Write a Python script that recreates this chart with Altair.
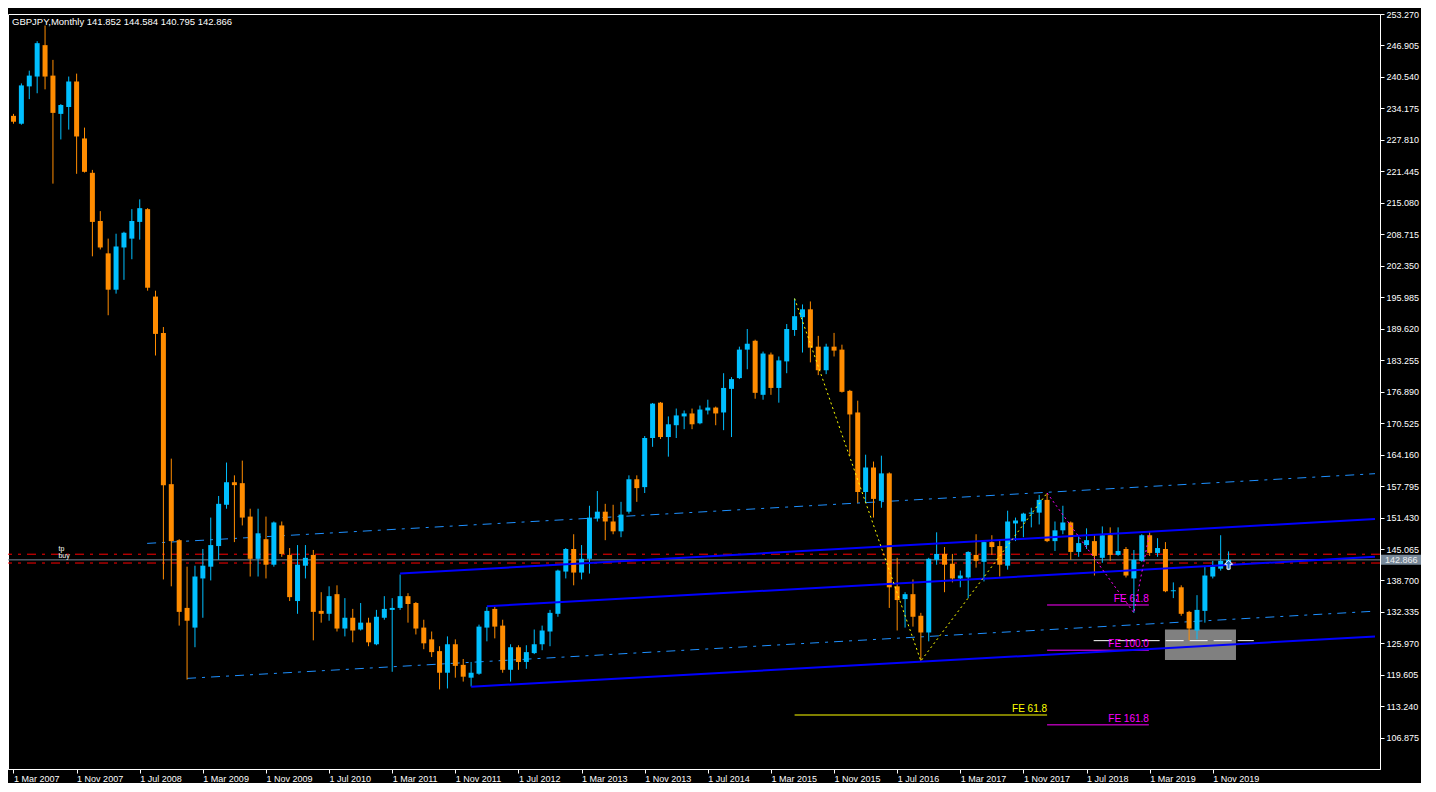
import altair as alt
import pandas as pd

# ---------------- data ----------------
symbol = "GBPJPY"
timeframe = "Monthly"

open_ = [232.67, 231.08, 238.63, 240.62, 246.97, 240.81, 233.07, 234.46, 239.62, 228.10,
         221.15, 211.41, 204.86, 197.51, 206.05, 207.84, 211.22, 213.80, 196.12, 188.77,
         158.18, 146.85, 133.15, 129.17, 139.11, 141.49, 145.66, 154.01, 158.57, 158.38,
         151.62, 143.08, 147.05, 141.89, 149.83, 143.87, 134.54, 141.69, 143.87, 132.55,
         131.96, 135.93, 128.98, 131.16, 128.78, 130.17, 125.80, 131.16, 132.75, 133.15,
         135.53, 134.14, 129.17, 126.79, 124.41, 120.04, 125.80, 121.63, 119.04, 119.84,
         129.17, 132.95, 129.57, 120.63, 125.20, 122.22, 124.01, 125.80, 128.38, 131.96,
         140.50, 145.07, 140.30, 143.08, 151.22, 152.61, 150.63, 148.64, 152.61, 159.17,
         157.58, 167.51, 174.66, 167.71, 170.10, 171.88, 172.48, 170.49, 173.08, 173.67,
         172.68, 177.45, 179.63, 185.39, 187.18, 176.25, 184.40, 177.64, 183.01, 189.36,
         191.95, 193.54, 185.99, 181.22, 185.99, 185.39, 177.05, 172.68, 156.59, 161.55,
         154.80, 160.36, 137.52, 134.93, 135.93, 131.56, 128.18, 142.88, 144.07, 142.09,
         139.11, 139.31, 143.87, 142.48, 146.46, 145.66, 141.69, 150.23, 150.63, 152.22,
         152.42, 155.00, 146.66, 148.84, 150.43, 144.47, 145.86, 146.66, 143.28, 147.85,
         143.87, 145.07, 139.11, 142.68, 147.85, 144.27, 145.07, 136.52, 137.32, 132.35,
         128.58, 132.55, 139.50, 141.09, 141.852]
high = [233.07, 239.23, 241.81, 247.77, 250.95, 243.99, 235.05, 240.62, 241.21, 230.29,
        221.74, 213.40, 207.84, 208.83, 209.23, 213.80, 215.78, 214.00, 197.31, 189.96,
        163.34, 147.05, 141.49, 141.69, 145.07, 151.42, 155.79, 162.55, 159.96, 162.94,
        153.21, 153.21, 151.62, 150.63, 150.63, 145.26, 145.86, 145.86, 144.87, 136.33,
        137.52, 137.72, 135.13, 132.95, 134.14, 131.16, 132.75, 135.53, 135.13, 139.90,
        136.13, 134.34, 130.76, 128.38, 125.40, 127.39, 126.79, 122.82, 122.22, 129.77,
        133.35, 133.35, 130.76, 125.80, 125.60, 125.60, 128.78, 129.57, 132.75, 140.89,
        145.26, 148.05, 145.86, 153.81, 156.79, 154.20, 154.01, 154.60, 159.96, 159.96,
        167.91, 174.60, 174.80, 171.88, 173.47, 173.08, 173.47, 174.07, 175.26, 173.87,
        180.62, 179.83, 185.99, 189.56, 187.40, 184.99, 184.80, 184.00, 190.56, 195.72,
        194.53, 195.13, 188.17, 186.58, 188.77, 186.39, 177.25, 175.06, 164.14, 162.75,
        163.94, 160.56, 143.28, 136.33, 138.91, 132.15, 143.28, 148.44, 145.46, 144.07,
        140.70, 144.60, 148.05, 146.66, 147.85, 146.66, 152.81, 151.42, 152.40, 153.41,
        155.99, 156.39, 150.63, 153.81, 150.63, 147.65, 149.24, 147.85, 149.63, 149.44,
        149.44, 145.46, 144.87, 148.05, 148.44, 147.25, 146.46, 138.31, 137.72, 132.55,
        135.73, 141.49, 142.68, 147.85, 144.584]
low = [231.08, 230.88, 236.05, 237.24, 238.03, 218.96, 227.90, 229.89, 220.95, 221.20,
       204.26, 205.65, 192.34, 196.71, 199.50, 203.67, 207.64, 197.31, 184.20, 138.91,
       137.52, 129.57, 118.65, 125.20, 131.16, 138.71, 142.88, 153.21, 146.46, 149.83,
       139.50, 139.50, 139.11, 141.49, 143.48, 134.54, 131.96, 139.11, 126.59, 130.17,
       130.56, 128.38, 127.39, 126.19, 128.58, 125.40, 125.60, 130.76, 120.23, 132.75,
       130.17, 127.78, 124.80, 123.21, 116.66, 116.86, 119.04, 118.25, 117.25, 119.64,
       126.39, 126.99, 120.04, 118.25, 120.63, 120.83, 123.81, 124.60, 125.40, 131.36,
       139.11, 137.72, 138.91, 140.10, 150.63, 146.85, 148.05, 147.45, 152.22, 154.60,
       156.39, 165.73, 167.31, 163.74, 167.51, 169.30, 169.30, 170.29, 172.28, 170.10,
       169.10, 167.71, 179.43, 181.42, 175.46, 175.26, 176.25, 174.66, 180.62, 188.17,
       184.80, 182.81, 180.23, 180.43, 184.00, 176.70, 163.94, 154.40, 154.40, 151.42,
       153.41, 133.15, 128.58, 129.17, 129.37, 122.42, 126.39, 141.89, 136.33, 138.31,
       137.32, 135.13, 141.29, 138.51, 143.87, 139.50, 140.89, 146.66, 147.45, 149.44,
       150.03, 146.46, 144.67, 148.05, 142.88, 143.48, 145.07, 139.70, 142.28, 142.68,
       143.70, 139.31, 132.15, 142.48, 143.68, 143.48, 136.33, 135.13, 131.56, 126.59,
       126.79, 130.17, 139.11, 140.70, 140.795]
close = [231.48, 238.83, 240.81, 247.37, 240.62, 233.27, 234.86, 239.62, 228.50, 221.35,
         211.22, 206.05, 197.51, 206.25, 209.03, 211.41, 214.00, 197.91, 188.57, 157.98,
         146.66, 132.35, 130.56, 139.50, 141.69, 145.86, 154.20, 158.57, 157.98, 151.42,
         143.08, 148.24, 141.89, 150.43, 144.07, 135.33, 141.89, 143.28, 132.35, 131.96,
         135.53, 128.98, 131.16, 128.58, 130.17, 126.19, 131.36, 132.95, 133.15, 135.53,
         133.94, 128.98, 125.99, 124.21, 120.04, 125.80, 121.43, 119.24, 120.04, 129.37,
         132.55, 129.37, 120.63, 125.20, 122.22, 124.21, 125.80, 128.58, 132.15, 140.70,
         145.07, 140.30, 143.08, 151.42, 152.61, 150.63, 148.64, 152.02, 159.17, 157.38,
         167.51, 174.47, 167.71, 170.29, 172.08, 172.48, 170.29, 173.27, 173.67, 172.48,
         177.64, 179.43, 185.39, 186.58, 176.65, 184.60, 177.64, 183.21, 189.56, 192.15,
         193.54, 185.79, 181.22, 185.99, 185.19, 176.85, 172.28, 156.59, 161.55, 155.20,
         160.36, 137.32, 134.74, 135.93, 131.36, 128.18, 143.08, 144.07, 141.89, 139.11,
         139.70, 144.47, 142.68, 146.46, 145.46, 141.89, 150.63, 150.83, 152.22, 152.42,
         155.00, 146.66, 148.84, 150.43, 144.47, 146.26, 146.85, 143.68, 147.85, 143.87,
         144.67, 139.70, 142.88, 147.85, 144.27, 145.26, 136.52, 136.72, 131.96, 128.98,
         132.75, 139.70, 141.49, 142.68, 142.866]

# date axis (bar index of each label)
date_tick_pos = [0, 8, 16, 24, 32, 40, 48, 56, 64, 72, 80, 88, 96, 104, 112, 120, 128, 136, 144, 152]
date_tick_labels = ["1 Mar 2007", "1 Nov 2007", "1 Jul 2008", "1 Mar 2009", "1 Nov 2009",
                    "1 Jul 2010", "1 Mar 2011", "1 Nov 2011", "1 Jul 2012", "1 Mar 2013",
                    "1 Nov 2013", "1 Jul 2014", "1 Mar 2015", "1 Nov 2015", "1 Jul 2016",
                    "1 Mar 2017", "1 Nov 2017", "1 Jul 2018", "1 Mar 2019", "1 Nov 2019"]
price_ticks = [253.270, 246.905, 240.540, 234.175, 227.810, 221.445, 215.080, 208.715,
               202.350, 195.985, 189.620, 183.255, 176.890, 170.525, 164.160, 157.795,
               151.430, 145.065, 138.700, 132.335, 125.970, 119.605, 113.240, 106.875]

# solid blue channel lines (bar index / price of both ends)
chan_x1 = [49, 60, 58]
chan_p1 = [140.10, 133.50, 117.20]
chan_x2 = [172.56, 172.56, 172.56]
chan_p2 = [151.12, 143.48, 127.39]

# dash-dot channel lines
dd_x1 = [16.94, 22.0]
dd_p1 = [146.20, 118.90]
dd_x2 = [172.56, 172.56]
dd_p2 = [160.30, 132.49]

# full-width horizontal levels
red_levels = [144.01, 142.23]
bid_price = 142.866

# fibo-expansion horizontal levels
fe_x1 = [99, 131, 131, 131]
fe_x2 = [131, 143.9, 143.9, 143.9]
fe_p = [111.49, 133.74, 124.60, 109.50]
fe_text = ["FE 61.8", "FE 61.8", "FE 100.0", "FE 161.8"]
fe_color = ["#FFFF00", "#FF00FF", "#FF00FF", "#FF00FF"]
white_x1, white_x2, white_p = 136.9, 157.2, 126.53

# zigzags
zz_yellow_x = [99, 115, 131]
zz_yellow_p = [195.72, 122.42, 156.39]
zz_mag_x = [131, 142, 144]
zz_mag_p = [156.39, 132.15, 148.44]

# grey zone
zone_x1, zone_x2, zone_p1, zone_p2 = 145.94, 154.94, 122.62, 128.78

# order labels
order_x = [5.7, 5.7]
order_p = [144.97, 143.68]
order_txt = ["tp", "buy"]

# ---------------- chart ----------------
W, H = 1372, 755
X_DOMAIN = [-0.0625, 172.56]
Y_DOMAIN = [100.57, 253.27]
BULL, BEAR = "#00BFFF", "#FF8C00"
FONT = "Liberation Sans"

n = len(open_)
candles = pd.DataFrame({"i": list(range(n)), "o": open_, "h": high, "l": low, "c": close})
candles["col"] = [BULL if c >= o else BEAR for o, c in zip(open_, close)]
candles["lo"] = [min(o, c) for o, c in zip(open_, close)]
candles["hi"] = [max(o, c) for o, c in zip(open_, close)]

xs = alt.Scale(domain=X_DOMAIN, nice=False, zero=False)
ys = alt.Scale(domain=Y_DOMAIN, nice=False, zero=False)

pos_list = "[" + ",".join(str(v) for v in date_tick_pos) + "]"
lab_list = "[" + ",".join("'" + s + "'" for s in date_tick_labels) + "]"
xaxis = alt.Axis(values=date_tick_pos, labelExpr=f"{lab_list}[indexof({pos_list}, datum.value)]",
                 title=None, grid=False, labelAlign="left", labelPadding=1, labelFlush=False,
                 labelOverlap=False, labelBound=False, tickSize=4, labelFontSize=9, labelFont=FONT,
                 labelColor="white", tickColor="white", domainColor="white")
yaxis = alt.Axis(orient="right", values=price_ticks, format=".3f", title=None, grid=False,
                 labelFlush=False, labelOverlap=False, tickSize=4, labelPadding=2,
                 labelFontSize=9, labelFont=FONT, labelColor="white", tickColor="white",
                 domainColor="white")


def X(field):
    return alt.X(field, scale=xs, axis=xaxis)


def Y(field):
    return alt.Y(field, scale=ys, axis=yaxis)


ident = lambda f: alt.Color(f, scale=None)

zone = alt.Chart(pd.DataFrame({"x1": [zone_x1], "x2": [zone_x2], "p1": [zone_p1], "p2": [zone_p2]})
                 ).mark_rect(color="#808080", clip=True).encode(
    x=X("x1:Q"), x2="x2:Q", y=Y("p1:Q"), y2="p2:Q")

hl = pd.DataFrame({"p": red_levels, "col": ["#FF0000", "#FF0000"]})
red_lines = alt.Chart(hl).mark_rule(strokeWidth=1, strokeDash=[9, 6, 3, 6], clip=True).encode(
    y=Y("p:Q"), color=ident("col:N"))
bid_df = pd.DataFrame({"p": [bid_price], "t": [f"{bid_price:.3f}"]})
bid_line = alt.Chart(bid_df).mark_rule(strokeWidth=1, color="#778899", clip=True).encode(y=Y("p:Q"))

dd = pd.DataFrame({"x1": dd_x1, "p1": dd_p1, "x2": dd_x2, "p2": dd_p2})
dd_lines = alt.Chart(dd).mark_rule(color="#1E90FF", strokeWidth=1, strokeDash=[9, 6, 3, 6], clip=True).encode(
    x=X("x1:Q"), x2="x2:Q", y=Y("p1:Q"), y2="p2:Q")

fe = pd.DataFrame({"x1": fe_x1, "x2": fe_x2, "p": fe_p, "t": fe_text, "col": fe_color})
fe_lines = alt.Chart(fe).mark_rule(strokeWidth=1, clip=True).encode(
    x=X("x1:Q"), x2="x2:Q", y=Y("p:Q"), color=ident("col:N"))
fe_labels = alt.Chart(fe).mark_text(align="right", baseline="bottom", dy=-1, fontSize=10, font=FONT).encode(
    x=X("x2:Q"), y=Y("p:Q"), text="t:N", color=ident("col:N"))
white_line = alt.Chart(pd.DataFrame({"x1": [white_x1], "x2": [white_x2], "p": [white_p]})).mark_rule(
    color="white", strokeWidth=1, strokeDash=[18, 6], clip=True).encode(
    x=X("x1:Q"), x2="x2:Q", y=Y("p:Q"))

wicks = alt.Chart(candles).mark_rule(strokeWidth=1, clip=True).encode(
    x=X("i:Q"), y=Y("l:Q"), y2="h:Q", color=ident("col:N"))
bodies = alt.Chart(candles).mark_bar(size=5, clip=True).encode(
    x=X("i:Q"), y=Y("lo:Q"), y2="hi:Q", color=ident("col:N"))

ch = pd.DataFrame({"x1": chan_x1, "p1": chan_p1, "x2": chan_x2, "p2": chan_p2})
chan_lines = alt.Chart(ch).mark_rule(color="#0000FF", strokeWidth=2, clip=True).encode(
    x=X("x1:Q"), x2="x2:Q", y=Y("p1:Q"), y2="p2:Q")

zz = pd.DataFrame({"x": zz_yellow_x + zz_mag_x, "p": zz_yellow_p + zz_mag_p,
                   "col": ["#FFFF00"] * 3 + ["#FF00FF"] * 3, "k": list(range(6))})
zz_lines = alt.Chart(zz).mark_line(strokeWidth=1, strokeDash=[2, 3], clip=True).encode(
    x=X("x:Q"), y=Y("p:Q"), order="k:Q", color=ident("col:N"))

orders = alt.Chart(pd.DataFrame({"x": order_x, "p": order_p, "t": order_txt})).mark_text(
    align="left", baseline="middle", fontSize=7, font=FONT, color="white").encode(
    x=X("x:Q"), y=Y("p:Q"), text="t:N")

last = candles.iloc[-1]
arrow = alt.Chart(pd.DataFrame({"x": [int(last.i)], "p": [141.89]})).mark_point(
    shape="M0,-1L0.9,-0.1L0.35,-0.1L0.35,1L-0.35,1L-0.35,-0.1L-0.9,-0.1Z",
    size=80, filled=True, fill="#1E6FD0", stroke="white", strokeWidth=1, opacity=1).encode(
    x=X("x:Q"), y=Y("p:Q"))

header_txt = f"{symbol},{timeframe}  {open_[-1]:.3f} {high[-1]:.3f} {low[-1]:.3f} {close[-1]:.3f}"
header = alt.Chart(pd.DataFrame({"t": [header_txt]})).mark_text(
    align="left", baseline="alphabetic", fontSize=9.5, font=FONT, color="white").encode(
    x=alt.value(4), y=alt.value(11), text="t:N")

bid_box = alt.Chart(bid_df).mark_point(shape="M-4,-1H4V1H-4Z", size=100, filled=True,
                                       fill="#778899", strokeWidth=0, opacity=1).encode(
    x=alt.value(W + 21), y=Y("p:Q"))
bid_txt = alt.Chart(bid_df).mark_text(align="left", baseline="middle", fontSize=9, font=FONT,
                                      color="#eeeeee").encode(
    x=alt.value(W + 5), y=Y("p:Q"), text="t:N")

chart = alt.layer(
    zone, red_lines, bid_line, dd_lines, fe_lines, white_line, fe_labels,
    wicks, bodies, chan_lines, zz_lines, orders, arrow, header, bid_box, bid_txt
).properties(
    width=W, height=H, background="black",
    padding={"left": 0, "top": 2, "right": 0, "bottom": 0}
).configure_view(fill="black", stroke="white", strokeWidth=1)

chart.save("out.html", embed_options={"renderer": "svg", "actions": False})
